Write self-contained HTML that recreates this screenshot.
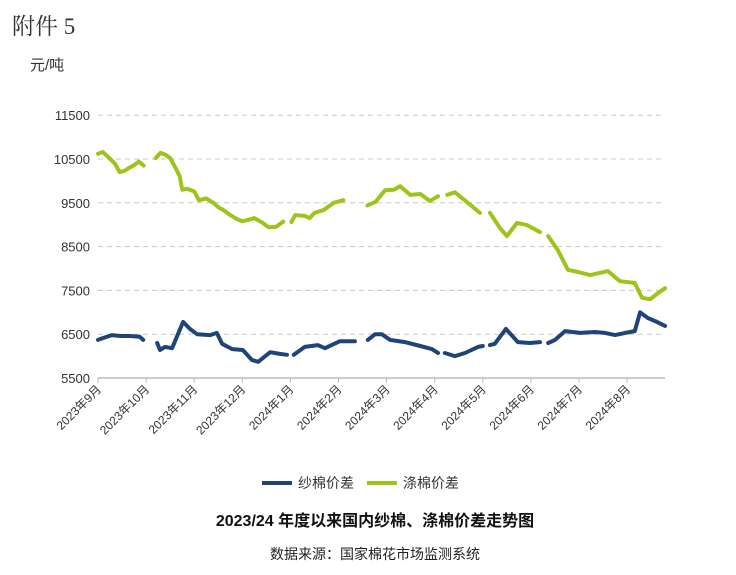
<!DOCTYPE html>
<html><head><meta charset="utf-8"><style>
body{margin:0;background:#fff;width:736px;height:570px;overflow:hidden;font-family:"Liberation Sans","Noto Sans CJK SC",sans-serif}
</style></head><body>
<svg width="736" height="570" xmlns="http://www.w3.org/2000/svg">
<text x="12" y="34" font-size="23" font-family="'Liberation Serif','Noto Serif CJK SC',serif" fill="#333">附件 5</text>
<text x="30" y="70" font-size="15" fill="#333">元/吨</text>
<g id="grid"></g><g id="axes"></g><g id="series"></g>
<g>
<line x1="262" y1="483" x2="292" y2="483" stroke="#1f4478" stroke-width="4"/>
<text x="298" y="488" font-size="14" fill="#333">纱棉价差</text>
<line x1="367" y1="483" x2="397" y2="483" stroke="#9dc41a" stroke-width="4"/>
<text x="403" y="488" font-size="14" fill="#333">涤棉价差</text>
</g>
<text x="375" y="526" font-size="16" font-weight="bold" text-anchor="middle" fill="#111">2023/24 年度以来国内纱棉、涤棉价差走势图</text>
<text x="375" y="559" font-size="14" text-anchor="middle" fill="#222">数据来源：国家棉花市场监测系统</text>
</svg>
<script>
const monthLabels=["2023年9月","2023年10月","2023年11月","2023年12月","2024年1月","2024年2月","2024年3月","2024年4月","2024年5月","2024年6月","2024年7月","2024年8月"];
const yTicks=[5500,6500,7500,8500,9500,10500,11500];
const greenX=[0,0.1,0.2,0.35,0.45,0.55,0.65,0.75,0.85,0.95,null,1.2,1.3,1.4,1.5,1.6,1.7,1.75,1.85,2.0,2.1,2.25,2.4,2.5,2.6,2.75,2.9,3.0,3.1,3.25,3.4,3.55,3.7,3.85,null,4.02,4.1,4.3,4.4,4.5,4.7,4.9,5.1,null,5.6,5.77,5.97,6.15,6.28,6.49,6.7,6.9,7.07,null,7.26,7.42,7.69,7.94,null,8.15,8.36,8.5,8.71,8.92,9.19,null,9.36,9.56,9.77,9.98,10.23,10.6,10.85,11.16,11.31,11.48,11.62,11.79];
const greenY=[10620,10660,10560,10400,10200,10230,10300,10360,10440,10350,null,10520,10640,10600,10520,10320,10100,9800,9820,9760,9560,9600,9500,9400,9340,9220,9120,9080,9100,9150,9060,8940,8950,9070,null,9060,9220,9200,9150,9270,9340,9500,9560,null,9440,9520,9790,9800,9880,9680,9700,9540,9650,null,9680,9740,9500,9270,null,9270,8920,8740,9040,8990,8830,null,8740,8420,7970,7920,7850,7940,7710,7670,7330,7300,7420,7550];
const blueX=[0,0.1,0.29,0.46,0.67,0.87,0.94,null,1.23,1.29,1.39,1.54,1.77,1.91,2.06,2.33,2.47,2.58,2.79,3.01,3.2,3.33,3.58,3.78,3.93,null,4.07,4.3,4.57,4.72,5.03,5.34,null,5.61,5.76,5.9,6.07,6.38,6.7,6.94,7.07,null,7.21,7.42,7.63,7.9,8.0,null,8.15,8.25,8.48,8.73,8.98,9.19,null,9.36,9.5,9.71,10.02,10.33,10.54,10.75,10.96,11.16,11.27,11.43,11.62,11.79];
const blueY=[6370,6410,6480,6460,6460,6440,6370,null,6300,6140,6210,6180,6780,6620,6500,6480,6530,6280,6160,6140,5910,5870,6090,6050,6030,null,6030,6210,6250,6180,6340,6340,null,6370,6500,6500,6370,6320,6230,6160,6070,null,6070,6000,6070,6210,6230,null,6250,6280,6620,6320,6300,6320,null,6300,6370,6570,6530,6550,6530,6480,6530,6570,7000,6870,6780,6690];
const X0=98,XW=48.1,XEND=665,Y0=378,YK=43.8/1000;
const sx=m=>X0+m*XW, sy=v=>Y0-(v-5500)*YK;
const NS="http://www.w3.org/2000/svg";
function mk(tag,attrs,parent){const e=document.createElementNS(NS,tag);for(const k in attrs)e.setAttribute(k,attrs[k]);parent.appendChild(e);return e;}
const grid=document.getElementById('grid'),axes=document.getElementById('axes'),ser=document.getElementById('series');
yTicks.forEach(v=>{
 if(v>5500){const l=mk('line',{x1:X0,x2:XEND,y1:sy(v),y2:sy(v),stroke:'#c8c8c8','stroke-dasharray':'5,4'},grid);
 
 }
 const t=mk('text',{x:90,y:sy(v)+5,'font-size':13,'text-anchor':'end',fill:'#333'},axes);t.textContent=v;
 
 
});
const ax=mk('line',{x1:X0,x2:XEND,y1:Y0,y2:Y0,stroke:'#bbb','stroke-width':1.5},axes);


monthLabels.forEach((lab,i)=>{
 const x=sx(i);
 const tk=mk('line',{x1:x,x2:x,y1:Y0,y2:Y0+5,stroke:'#bbb'},axes);
 
 
 const t=mk('text',{x:x+4,y:Y0+12,'font-size':12,'text-anchor':'end',fill:'#333',transform:`rotate(-45 ${x+4} ${Y0+12})`},axes);t.textContent=lab;
 
 
});
function draw(xs,ys,color,name){
 let segs=[],cur=[];
 xs.forEach((m,i)=>{if(m===null||ys[i]===null){if(cur.length)segs.push(cur);cur=[];}else cur.push(sx(m).toFixed(1)+','+sy(ys[i]).toFixed(1));});
 if(cur.length)segs.push(cur);
 segs.forEach(s=>{const p=mk('polyline',{points:s.join(' '),fill:'none',stroke:color,'stroke-width':4,'stroke-linejoin':'round','stroke-linecap':'round'},ser);
 
 });
}
draw(greenX,greenY,'#9dc41a','polyester-cotton-spread-line');
draw(blueX,blueY,'#1f4478','yarn-cotton-spread-line');
</script>
</body></html>
